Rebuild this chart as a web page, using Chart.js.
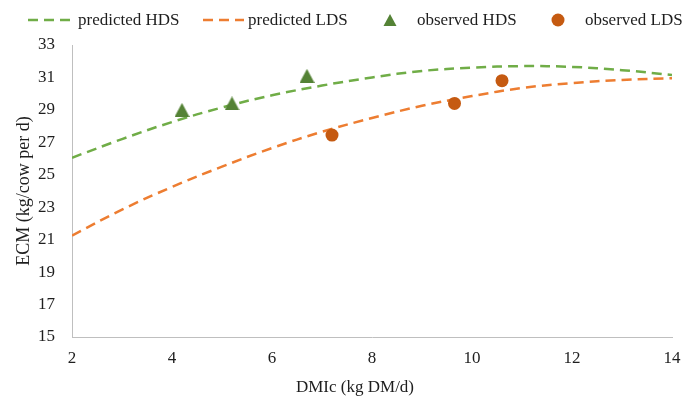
<!DOCTYPE html>
<html>
<head>
<meta charset="utf-8">
<script src="https://cdn.jsdelivr.net/npm/chart.js@4.4.0/dist/chart.umd.min.js"></script>
<style>
  html, body { margin: 0; padding: 0; background: #fff; }
  #wrap { width: 699px; height: 403px; }
</style>
</head>
<body>
<div id="wrap"><canvas id="ecm-chart" width="699" height="403"></canvas></div>
<script>
// values
const dmiX = [2, 3, 4, 5, 6, 7, 8, 9, 10, 11, 12, 13, 14];
const predictedHDS = [26.05, 27.2, 28.25, 29.15, 29.9, 30.5, 31.0, 31.4, 31.6, 31.7, 31.65, 31.45, 31.15];
const predictedLDS = [21.25, 22.85, 24.25, 25.5, 26.65, 27.65, 28.5, 29.25, 29.85, 30.35, 30.65, 30.85, 30.95];
const observedHDSx = [4.2, 5.2, 6.7];
const observedHDSy = [29.0, 29.4, 31.1];
const observedLDSx = [7.2, 9.65, 10.6];
const observedLDSy = [27.45, 29.4, 30.8];
const seriesNames = ['predicted HDS', 'predicted LDS', 'observed HDS', 'observed LDS'];
const xTitle = 'DMIc (kg DM/d)';
const yTitle = 'ECM (kg/cow per d)';

const FONT = "'Liberation Serif', 'Times New Roman', serif";
const TEXT = '#1e1e1e';
const GREEN = '#70AD47', ORANGE = '#ED7D31', DKGREEN = '#548235', DKORANGE = '#C55A11';

function toPoints(xs, ys) {
    return xs.map((x, i) => ({ x: x, y: ys[i] }));
}

// triangle marker as an image so it sits centred like the original
function makeTriangle(w, h, color) {
    const c = document.createElement('canvas');
    c.width = w; c.height = h;
    const g = c.getContext('2d');
    g.fillStyle = color;
    g.beginPath();
    g.moveTo(w / 2, 0);
    g.lineTo(w, h);
    g.lineTo(0, h);
    g.closePath();
    g.fill();
    return c;
}
const triangleImg = makeTriangle(15, 14, DKGREEN);

// legend drawn by hand to match the spacing of the original
const legendSlots = [
    { kind: 'line', x0: 28, x1: 73, tx: 78 },
    { kind: 'line', x0: 203, x1: 244, tx: 248 },
    { kind: 'tri', cx: 390, tx: 417 },
    { kind: 'dot', cx: 558, tx: 585 }
];

const customLegend = {
    id: 'customLegend',
    afterDraw(chart) {
        const { ctx } = chart;
        const y = 20;
        ctx.save();
        ctx.font = '17px ' + FONT;
        ctx.textBaseline = 'middle';
        ctx.textAlign = 'left';
        chart.data.datasets.forEach((ds, i) => {
            const slot = legendSlots[i];
            if (slot.kind === 'line') {
                ctx.strokeStyle = ds.borderColor;
                ctx.lineWidth = ds.borderWidth;
                ctx.setLineDash(ds.borderDash);
                ctx.beginPath();
                ctx.moveTo(slot.x0, y);
                ctx.lineTo(slot.x1, y);
                ctx.stroke();
                ctx.setLineDash([]);
            } else if (slot.kind === 'tri') {
                ctx.fillStyle = DKGREEN;
                ctx.beginPath();
                ctx.moveTo(slot.cx, y - 6);
                ctx.lineTo(slot.cx + 6.5, y + 6);
                ctx.lineTo(slot.cx - 6.5, y + 6);
                ctx.closePath();
                ctx.fill();
            } else {
                ctx.fillStyle = DKORANGE;
                ctx.beginPath();
                ctx.arc(slot.cx, y, 6.5, 0, Math.PI * 2);
                ctx.fill();
            }
            ctx.fillStyle = TEXT;
            ctx.fillText(ds.label, slot.tx, y + 1);
        });
        ctx.restore();
    }
};

// x title sits a little left of the axis centre in the original
const xTitlePlugin = {
    id: 'xTitle',
    afterDraw(chart) {
        const { ctx } = chart;
        ctx.save();
        ctx.font = '17px ' + FONT;
        ctx.fillStyle = TEXT;
        ctx.textAlign = 'center';
        ctx.textBaseline = 'middle';
        ctx.fillText(xTitle, 355, 388);
        ctx.restore();
    }
};

const config = {
    type: 'scatter',
    data: {
        datasets: [
            {
                label: seriesNames[0],
                data: toPoints(dmiX, predictedHDS),
                showLine: true,
                borderColor: GREEN,
                borderWidth: 2.5,
                borderDash: [10, 6],
                pointRadius: 0,
                tension: 0.4,
                order: 1
            },
            {
                label: seriesNames[1],
                data: toPoints(dmiX, predictedLDS),
                showLine: true,
                borderColor: ORANGE,
                borderWidth: 2.5,
                borderDash: [10, 6],
                pointRadius: 0,
                tension: 0.4,
                order: 1
            },
            {
                label: seriesNames[2],
                data: toPoints(observedHDSx, observedHDSy),
                pointStyle: triangleImg,
                backgroundColor: DKGREEN,
                borderColor: DKGREEN,
                order: 0
            },
            {
                label: seriesNames[3],
                data: toPoints(observedLDSx, observedLDSy),
                pointStyle: 'circle',
                pointRadius: 6.5,
                backgroundColor: DKORANGE,
                borderColor: DKORANGE,
                borderWidth: 0,
                order: 0
            }
        ]
    },
    options: {
        responsive: false,
        animation: false,
        devicePixelRatio: 1,
        layout: { padding: { top: 45, right: 27, bottom: 0, left: 0 } },
        plugins: {
            legend: { display: false },
            tooltip: { enabled: false }
        },
        scales: {
            x: {
                type: 'linear',
                min: 2,
                max: 14,
                ticks: { stepSize: 2, color: TEXT, font: { family: FONT, size: 17 }, padding: 11 },
                grid: { display: false, drawTicks: false },
                border: { display: true, color: '#BFBFBF', width: 1 },
                title: { display: false },
                afterFit(scale) { scale.height = 66; }
            },
            y: {
                min: 15,
                max: 33,
                ticks: { stepSize: 2, color: TEXT, font: { family: FONT, size: 17 }, padding: 17 },
                grid: { display: false, drawTicks: false },
                border: { display: true, color: '#BFBFBF', width: 1 },
                title: {
                    display: true,
                    text: yTitle,
                    color: TEXT,
                    font: { family: FONT, size: 18 },
                    padding: { top: 13, bottom: 0 }
                },
                afterFit(scale) { scale.width = 72; }
            }
        }
    },
    plugins: [customLegend, xTitlePlugin]
};

document.fonts.load('17px "Liberation Serif"').finally(() => {
    new Chart(document.getElementById('ecm-chart'), config);
});
</script>
</body>
</html>
